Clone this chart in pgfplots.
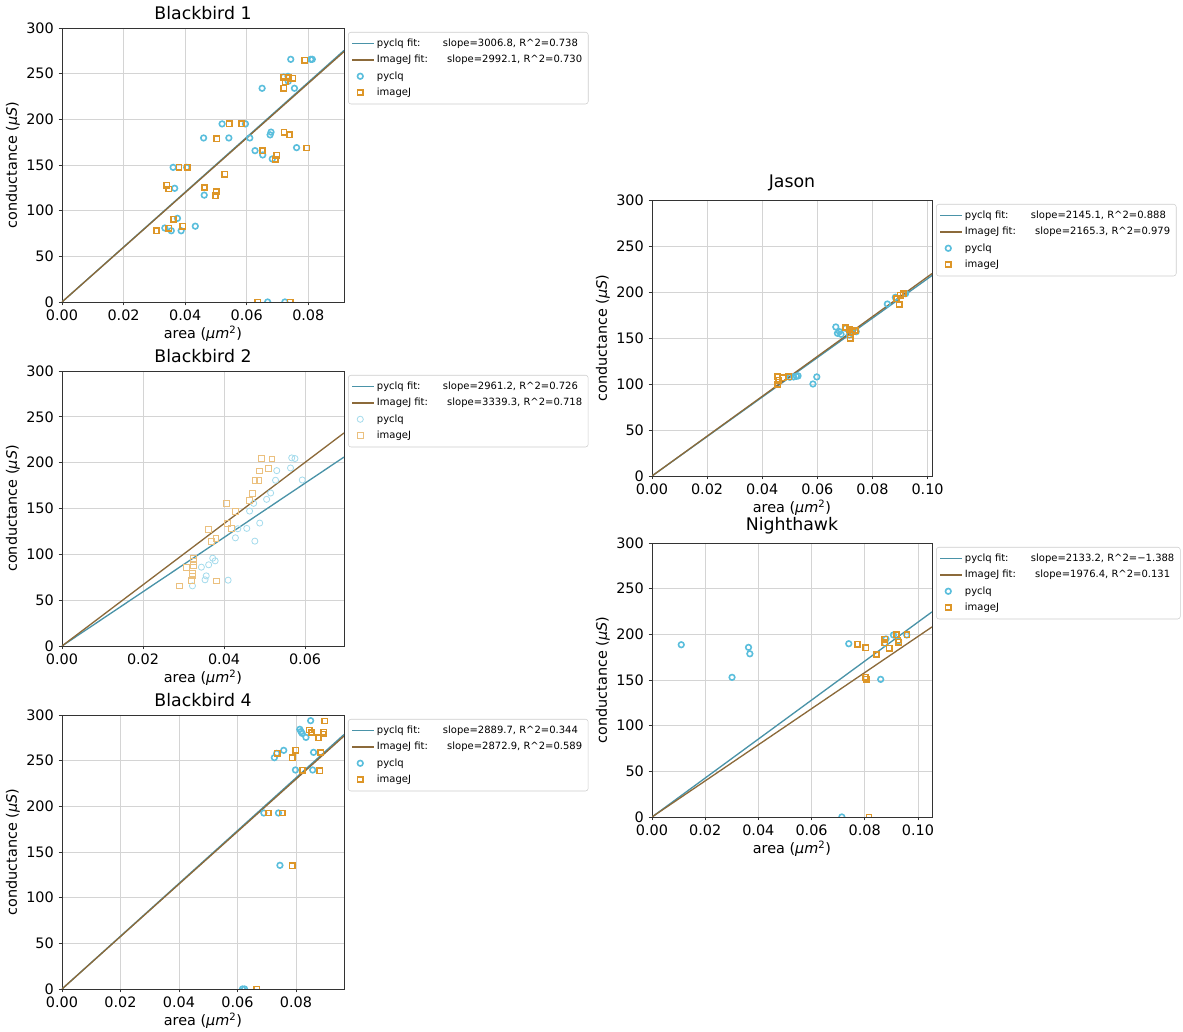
\documentclass[border=0pt]{standalone}
\usepackage{pgfplots}
\pgfplotsset{compat=1.18}
\usepackage{fontspec}
\setmainfont{DejaVu Sans}
\definecolor{cblue}{HTML}{5ABEDC}
\definecolor{corange}{HTML}{DD9628}
\definecolor{fitblue}{HTML}{4A93A8}
\definecolor{fitbrown}{HTML}{8C6A3A}
\pgfplotsset{
 base/.style={
  scale only axis, width=211.5pt, height=205.5pt, anchor=north west,
  xmin=0, ymin=0, ymax=300,
  ytick={0,50,100,150,200,250,300},
  xtick={0,0.02,0.04,0.06,0.08,0.10},
  tick pos=left, tick align=outside, major tick length=2.6pt,
  grid=major, grid style={line width=0.6pt, black!17},
  axis line style={black!80, line width=0.6pt}, tick style={black!80, line width=0.6pt},
  tick label style={font=\fontsize{10.8}{12}\selectfont},
  label style={font=\fontsize{10.8}{12}\selectfont},
  title style={font=\fontsize{13}{15}\selectfont, yshift=-3pt},
  xticklabel style={/pgf/number format/.cd, fixed, fixed zerofill, precision=2},
  /pgf/number format/assume math mode=true,
  scaled x ticks=false,
  xlabel={area (\textit{μm}\textsuperscript{2})},
  ylabel={conductance (\textit{μS})},
  xlabel style={yshift=3pt}, ylabel style={yshift=-2pt},
  clip marker paths=true,
  legend style={at={(1,1)}, anchor=north west, xshift=3pt, yshift=-3pt,
    font=\fontsize{7.5}{9}\selectfont, draw=black!20, rounded corners=2pt,
    cells={anchor=west}, row sep=0pt, inner sep=2.5pt,
    nodes={inner ysep=2.2pt, text height=6pt, text depth=1.8pt}},
  legend image code/.code={\draw[mark repeat=2,mark phase=2,#1] plot coordinates {(0pt,0pt)(6pt,0pt)(16pt,0pt)};},
 },
 fitA/.style={fitblue, line width=1pt, no marks},
 fitB/.style={fitbrown, line width=1pt, no marks},
 scA/.style={only marks, mark=o, cblue, mark size=2.1pt, line width=1.2pt},
 scB/.style={only marks, mark=square, corange, mark size=2pt, line width=1.2pt},
 scAl/.style={only marks, mark=o, cblue!55, mark size=2.3pt, line width=0.6pt},
 scBl/.style={only marks, mark=square, corange!60, mark size=2.2pt, line width=0.6pt},
}
\newcommand{\lA}[1]{\makebox[49.5pt][l]{pyclq fit:}#1}
\newcommand{\lB}[1]{\makebox[52.7pt][l]{ImageJ fit:}#1}
\begin{document}
\begin{tikzpicture}
\useasboundingbox (0,0) rectangle (887.25pt,774pt);
% Blackbird 1
\begin{axis}[base, at={(46.5pt,753pt)}, xmax=0.0916, title={Blackbird 1}]
\addplot[fitA] coordinates {(0,0) (0.0916,275.4)};
\addlegendentry{\lA{slope=3006.8, R\textasciicircum 2=0.738}}
\addplot[fitB] coordinates {(0,0) (0.0916,274.1)};
\addlegendentry{\lB{slope=2992.1, R\textasciicircum 2=0.730}}
\addplot[scA] coordinates {(0.0743,265.7)(0.0808,265.7)(0.0813,265.7)(0.0720,246.4)(0.0734,247)(0.0735,241.6)(0.0650,234)(0.0755,234)(0.0520,195)(0.0596,195)(0.0460,179.6)(0.0542,179.6)(0.0610,179.6)(0.0679,186)(0.0676,183)(0.0627,165.7)(0.0652,161)(0.0683,156.6)(0.0762,169)(0.0361,147.4)(0.0405,147.4)(0.0366,124.5)(0.0462,117)(0.0375,91.6)(0.0334,81)(0.0355,78)(0.0387,78)(0.0433,83)(0.0668,0)(0.0724,0)};
\addlegendentry{pyclq}
\addplot[scB] coordinates {(0.0789,264.6)(0.0720,246)(0.0737,245.6)(0.0750,245)(0.0725,241)(0.0720,234)(0.0543,195)(0.0583,195)(0.0503,178.8)(0.0721,186)(0.0739,183)(0.0651,165.7)(0.0698,160.6)(0.0693,156.2)(0.0795,168.6)(0.0380,147.4)(0.0408,147.4)(0.0529,140)(0.0340,128)(0.0347,123.7)(0.0463,125.5)(0.0501,121)(0.0499,116.4)(0.0362,90.5)(0.0392,82.8)(0.0347,80.7)(0.0307,78)(0.0636,0)(0.0741,0)};
\addlegendentry{imageJ}
\end{axis}
% Blackbird 2
\begin{axis}[base, at={(46.5pt,495.75pt)}, height=206.25pt, xmax=0.0696, xtick={0,0.02,0.04,0.06}, title={Blackbird 2}]
\addplot[fitA] coordinates {(0,0) (0.0696,206.1)};
\addlegendentry{\lA{slope=2961.2, R\textasciicircum 2=0.726}}
\addplot[fitB] coordinates {(0,0) (0.0696,232.4)};
\addlegendentry{\lB{slope=3339.3, R\textasciicircum 2=0.718}}
\addplot[scAl] coordinates {(0.0567,205.2)(0.0575,204.5)(0.0530,191.3)(0.0564,194.2)(0.0527,180.8)(0.0593,181.1)(0.0515,166.9)(0.0505,160)(0.0473,155.6)(0.0463,147.2)(0.0488,134.1)(0.0456,128.3)(0.0434,127.9)(0.0428,118)(0.0476,114.4)(0.0372,95.8)(0.0378,92.9)(0.0362,88.6)(0.0344,86)(0.0356,76.5)(0.0353,72.2)(0.0410,71.8)(0.0322,65.6)};
\addlegendentry{pyclq}
\addplot[scBl] coordinates {(0.0493,204.8)(0.0518,204.1)(0.0509,193.9)(0.0487,191)(0.0476,180.8)(0.0486,180.8)(0.0469,166.5)(0.0463,159.2)(0.0406,155.2)(0.0428,146.5)(0.0408,134.1)(0.0419,127.9)(0.0362,127.6)(0.0380,117.3)(0.0368,114.4)(0.0324,95.5)(0.0324,92.2)(0.0325,88.2)(0.0306,85.3)(0.0321,79.5)(0.0322,76.5)(0.0320,71.8)(0.0381,71)(0.0289,65.6)};
\addlegendentry{imageJ}
\end{axis}
% Blackbird 4
\begin{axis}[base, at={(46.5pt,237.75pt)}, xmax=0.0964, xtick={0,0.02,0.04,0.06,0.08}, title={Blackbird 4}]
\addplot[fitA] coordinates {(0,0) (0.0964,278.6)};
\addlegendentry{\lA{slope=2889.7, R\textasciicircum 2=0.344}}
\addplot[fitB] coordinates {(0,0) (0.0964,276.9)};
\addlegendentry{\lB{slope=2872.9, R\textasciicircum 2=0.589}}
\addplot[scA] coordinates {(0.0850,293.8)(0.0813,284.3)(0.0817,281.8)(0.0821,279.9)(0.0834,275.5)(0.0758,261.3)(0.0734,258)(0.0726,253.3)(0.0860,259.1)(0.0798,239.8)(0.0857,239.8)(0.0690,192.7)(0.0740,192.7)(0.0745,135.4)(0.0617,0)(0.0624,0)};
\addlegendentry{pyclq}
\addplot[scB] coordinates {(0.0898,293.4)(0.0845,283.6)(0.0853,280.7)(0.0895,281)(0.0893,279.2)(0.0877,275.2)(0.0799,261.3)(0.0736,258)(0.0787,253.3)(0.0885,258.8)(0.0822,239.4)(0.0881,239)(0.0706,192.7)(0.0753,192.7)(0.0787,135)(0.0666,0)};
\addlegendentry{imageJ}
\end{axis}
% Jason
\begin{axis}[base, at={(489pt,624pt)}, width=210pt, height=207pt, xmax=0.1016, title={Jason}]
\addplot[fitA] coordinates {(0,0) (0.1016,217.9)};
\addlegendentry{\lA{slope=2145.1, R\textasciicircum 2=0.888}}
\addplot[fitB] coordinates {(0,0) (0.1016,220.0)};
\addlegendentry{\lB{slope=2165.3, R\textasciicircum 2=0.979}}
\addplot[scA] coordinates {(0.0667,162.0)(0.0702,160.6)(0.0673,155.1)(0.0686,154.0)(0.0680,156.9)(0.0741,156.9)(0.0716,153.3)(0.0854,186.9)(0.0883,194.2)(0.0920,198.2)(0.0584,100.0)(0.0598,107.7)(0.0514,107.7)(0.0524,108.4)(0.0530,108.8)(0.0500,107.3)};
\addlegendentry{pyclq}
\addplot[scB] coordinates {(0.0457,107.7)(0.0459,104.0)(0.0457,99.3)(0.0474,106.9)(0.0496,107.7)(0.0702,161.3)(0.0719,153.3)(0.0728,156.9)(0.0737,158.0)(0.0716,158.8)(0.0719,149.6)(0.0900,196.4)(0.0912,198.2)(0.0897,186.5)(0.0887,192.7)};
\addlegendentry{imageJ}
\end{axis}
% Nighthawk
\begin{axis}[base, at={(489pt,366.75pt)}, width=210pt, xmax=0.1053, title={Nighthawk}]
\addplot[fitA] coordinates {(0,0) (0.1053,224.6)};
\addlegendentry{\lA{slope=2133.2, R\textasciicircum 2=−1.388}}
\addplot[fitB] coordinates {(0,0) (0.1053,208.1)};
\addlegendentry{\lB{slope=1976.4, R\textasciicircum 2=0.131}}
\addplot[scA] coordinates {(0.0110,188.6)(0.0363,185.7)(0.0368,178.7)(0.0301,152.9)(0.0740,189.7)(0.0860,150.7)(0.0880,194.9)(0.0876,190.1)(0.0908,199.3)(0.0927,193.0)(0.0958,199.3)(0.0714,0)};
\addlegendentry{pyclq}
\addplot[scB] coordinates {(0.0773,189.3)(0.0804,185.3)(0.0844,177.9)(0.0876,194.5)(0.0876,190.8)(0.0892,184.9)(0.0919,199.3)(0.0925,193.8)(0.0928,191.5)(0.0959,199.3)(0.0803,152.9)(0.0805,150.7)(0.0816,0)};
\addlegendentry{imageJ}
\end{axis}
\end{tikzpicture}
\end{document}
